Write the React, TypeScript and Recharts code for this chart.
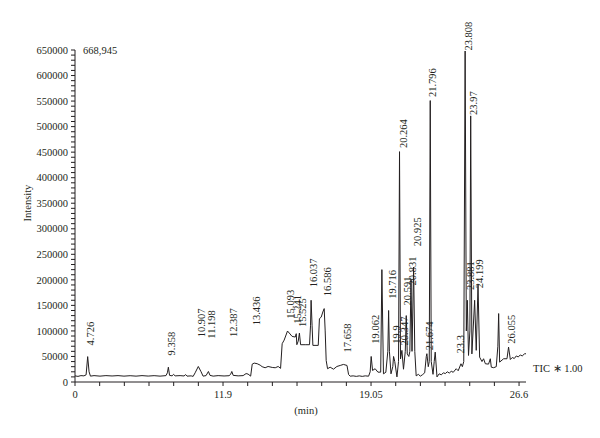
import { ComposedChart, Line, Scatter, XAxis, YAxis } from 'recharts';

const FONT = '"Liberation Serif", "Times New Roman", serif';
const INK = '#231f20';

// TIC trace: retention time (min) and intensity
const traceTime = [
  4.2, 4.35, 4.5, 4.65, 4.76, 4.84, 4.91, 4.98, 5.16, 5.46, 5.76, 6.07, 6.37, 6.67, 6.98, 7.28, 7.58, 7.89,
  8.19, 8.49, 8.79, 8.86, 8.91, 8.97, 9.1, 9.17, 9.25, 9.5, 9.7, 9.78, 9.85, 10.06, 10.16, 10.26, 10.42,
  10.56, 10.66, 10.81, 10.93, 11.01, 11.17, 11.42, 11.72, 11.97, 12.05, 12.11, 12.18, 12.43, 12.68, 12.83,
  12.93, 13.06, 13.14, 13.24, 13.39, 13.54, 13.64, 13.79, 13.94, 14.15, 14.3, 14.45, 14.57, 14.65, 14.75,
  14.92, 15.05, 15.15, 15.31, 15.36, 15.39, 15.46, 15.52, 15.58, 15.81, 16.03, 16.08, 16.11, 16.16, 16.2,
  16.47, 16.53, 16.62, 16.7, 16.77, 16.82, 16.87, 16.94, 17.07, 17.24, 17.41, 17.58, 17.74, 17.92, 18.0,
  18.08, 18.23, 18.39, 18.54, 18.69, 18.84, 19.01, 19.09, 19.14, 19.21, 19.34, 19.48, 19.62, 19.68, 19.76,
  19.88, 19.98, 20.02, 20.06, 20.14, 20.23, 20.27, 20.33, 20.44, 20.52, 20.57, 20.62, 20.69, 20.77, 20.86,
  20.91, 20.96, 21.04, 21.09, 21.15, 21.2, 21.28, 21.34, 21.41, 21.52, 21.62, 21.72, 21.84, 21.92, 21.95,
  22.02, 22.07, 22.12, 22.17, 22.26, 22.32, 22.37, 22.46, 22.57, 22.68, 22.78, 22.88, 22.98, 23.08, 23.18,
  23.28, 23.43, 23.53, 23.67, 23.74, 23.81, 23.88, 23.94, 23.99, 24.05, 24.12, 24.16, 24.22, 24.36, 24.44,
  24.53, 24.61, 24.73, 24.81, 24.9, 25.06, 25.15, 25.2, 25.32, 25.45, 25.53, 25.57, 25.62, 25.82, 25.99,
  26.07, 26.16, 26.26, 26.36, 26.46, 26.56, 26.66, 26.76, 26.87, 26.95,
];
const traceIntensity = [
  12000, 11000, 12500, 12000, 14000, 49700, 20000, 11500, 12500, 11500, 12500, 11800, 12500, 11500, 12300,
  11500, 12500, 11600, 12400, 11500, 12500, 18000, 29000, 13000, 12000, 15000, 12000, 12500, 11800, 14500,
  11500, 12000, 11000, 18000, 30400, 20000, 11500, 12500, 20600, 13000, 11500, 12500, 11800, 12300, 15000,
  20600, 13000, 12000, 12500, 16500, 15500, 11500, 35000, 37000, 35800, 33000, 30000, 27900, 30400, 28500,
  27900, 30400, 26700, 75000, 82000, 99800, 94000, 89300, 88000, 94600, 73000, 80000, 95800, 73000, 73000,
  73000, 110000, 160000, 110000, 71700, 71700, 124000, 127000, 137000, 143700, 100000, 42200, 26000, 29000,
  25100, 30400, 32400, 34400, 32400, 14700, 11400, 12000, 11000, 12000, 11000, 12000, 11400, 20000, 50000,
  22600, 26000, 19300, 19300, 220000, 16000, 19000, 60000, 140000, 60000, 16000, 30000, 50000, 40000, 10000,
  40000, 451000, 45000, 61900, 25000, 60000, 130000, 55000, 50000, 60000, 200000, 60000, 225000, 60000,
  12000, 15000, 11500, 14000, 18000, 50000, 55400, 30000, 40000, 551000, 40000, 15000, 40000, 58500, 10000,
  16000, 14000, 18000, 16500, 20000, 17500, 21000, 19000, 26000, 22000, 35700, 30000, 40000, 648000, 100000,
  160000, 52000, 100000, 521000, 55000, 160000, 62000, 190000, 48700, 40000, 45500, 35700, 35000, 45500,
  29000, 28000, 30000, 70000, 134000, 38900, 45500, 45500, 68300, 44000, 48000, 46000, 51000, 49000, 53000,
  51000, 55000, 55400,
];

// peak annotations: text, time at the label centre, intensity at the label foot
const peakLabels = [
  '4.726', '9.358', '10.907', '11.198', '12.387', '13.436', '15.093', '15.241', '15.525', '16.037', '16.586',
  '17.658', '19.062', '19.716', '19.9', '20.264', '20.347', '20.591', '20.831', '20.925', '21.674', '21.796',
  '23.3', '23.808', '23.881', '23.97', '24.199', '26.055',
];
const peakLabelTime = [
  4.99, 9.08, 10.55, 11.07, 12.19, 13.34, 15.08, 15.41, 15.68, 16.21, 16.92, 17.95, 19.34, 20.2, 20.4, 20.76,
  20.81, 20.96, 21.24, 21.46, 22.07, 22.22, 23.64, 24.05, 24.12, 24.31, 24.59, 26.19,
];
const peakLabelIntensity = [
  71700, 52000, 87400, 84800, 88000, 111000, 124000, 114000, 107600, 185500, 168000, 58000, 75000, 163000,
  75000, 458000, 71700, 150000, 189000, 266000, 62000, 558000, 56000, 649000, 180000, 523000, 183600, 75000,
];

const xMajorTicks = [4.2, 11.667, 19.133, 26.6];
const xMajorLabels = ['0', '11.9', '19.05', '26.6'];
const yMax = 650000;

const trace = traceTime.map((t, i) => ({ t, v: traceIntensity[i] }));
const labels = peakLabels.map((label, i) => ({ label, t: peakLabelTime[i], v: peakLabelIntensity[i] }));

const xTicks: number[] = [];
for (let i = 0; i < xMajorTicks.length - 1; i++) {
  const a = xMajorTicks[i];
  const b = xMajorTicks[i + 1];
  for (let k = 0; k < 6; k++) xTicks.push(a + ((b - a) * k) / 6);
}
xTicks.push(xMajorTicks[xMajorTicks.length - 1]);

const yTicks: number[] = [];
for (let v = 0; v <= yMax; v += 10000) yTicks.push(v);

function XTick({ x, y, payload }: any) {
  const i = xMajorTicks.findIndex((m) => Math.abs(m - payload.value) < 1e-3);
  if (i < 0) return <g />;
  return (
    <text x={x} y={y} dy={10} textAnchor="middle" fontFamily={FONT} fontSize={10.5} fill={INK}>
      {xMajorLabels[i]}
    </text>
  );
}

function YTick({ x, y, payload }: any) {
  if (payload.value % 50000 !== 0) return <g />;
  return (
    <text x={x} y={y} dy={3.7} textAnchor="end" fontFamily={FONT} fontSize={10.5} fill={INK}>
      {payload.value}
    </text>
  );
}

function PeakLabel({ cx, cy, payload }: any) {
  return (
    <text
      x={cx}
      y={cy}
      dy="0.35em"
      transform={`rotate(-90 ${cx} ${cy})`}
      textAnchor="start"
      fontFamily={FONT}
      fontSize={10.5}
      fill={INK}
    >
      {payload.label}
    </text>
  );
}

export default function App() {
  return (
    <div style={{ position: 'absolute', left: 0, top: 0, width: 600, height: 438, background: '#fff' }}>
      <ComposedChart width={600} height={438} margin={{ top: 50, right: 74, bottom: 26, left: 0 }}>
        <XAxis
          type="number"
          dataKey="t"
          domain={[4.2, 26.95]}
          ticks={xTicks}
          interval={0}
          tick={<XTick />}
          tickSize={4}
          tickMargin={2}
          height={30}
          stroke={INK}
        />
        <YAxis
          type="number"
          domain={[0, yMax]}
          ticks={yTicks}
          interval={0}
          tick={<YTick />}
          tickSize={4}
          tickMargin={3}
          width={75}
          stroke={INK}
        />
        <Line
          data={trace}
          dataKey="v"
          type="linear"
          stroke={INK}
          strokeWidth={1}
          dot={false}
          isAnimationActive={false}
        />
        <Scatter data={labels} dataKey="v" shape={<PeakLabel />} isAnimationActive={false} />
      </ComposedChart>
      <svg width={600} height={438} style={{ position: 'absolute', left: 0, top: 0, pointerEvents: 'none' }}>
        <g fontFamily={FONT} fontSize={10.5} fill={INK}>
          <text x={27} y={203} dy="0.35em" textAnchor="middle" transform="rotate(-90 27 203)">
            Intensity
          </text>
          <text x={83} y={54.4}>668,945</text>
          <text x={533} y={371.7}>TIC ∗ 1.00</text>
          <text x={306} y={414} textAnchor="middle">(min)</text>
        </g>
      </svg>
    </div>
  );
}
